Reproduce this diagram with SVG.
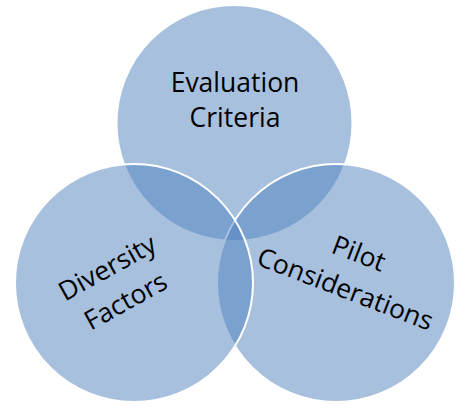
<svg xmlns="http://www.w3.org/2000/svg" width="458" height="407" viewBox="0 0 458 407">
<style>
.c{fill:#4F81BD;fill-opacity:0.5;stroke:#FFFFFF;stroke-width:2}
.t{font-family:"Open Sans","Liberation Sans",sans-serif;font-size:26.5px;fill:#000000;text-anchor:middle}
</style>
<rect width="458" height="407" fill="#FFFFFF"/>
<g id="evaluation-criteria">
<circle class="c" cx="234.5" cy="123" r="118"/>
</g>
<g id="pilot-considerations">
<circle class="c" cx="336" cy="283" r="119"/>
</g>
<g id="diversity-factors">
<circle class="c" cx="134" cy="283" r="119"/>
</g>
<g id="connectors"></g>
<g id="labels">
<text class="t" x="235" y="91.5">Evaluation</text>
<text class="t" x="235" y="126.5">Criteria</text>
<g transform="translate(116.5,284.5) rotate(-29)">
<text class="t" x="0" y="-10">Diversity</text>
<text class="t" x="0" y="28">Factors</text>
</g>
<g transform="translate(352.4,270.4) rotate(21)">
<text class="t" x="0" y="-9">Pilot</text>
<text class="t" x="0" y="29">Considerations</text>
</g>
</g>
</svg>
